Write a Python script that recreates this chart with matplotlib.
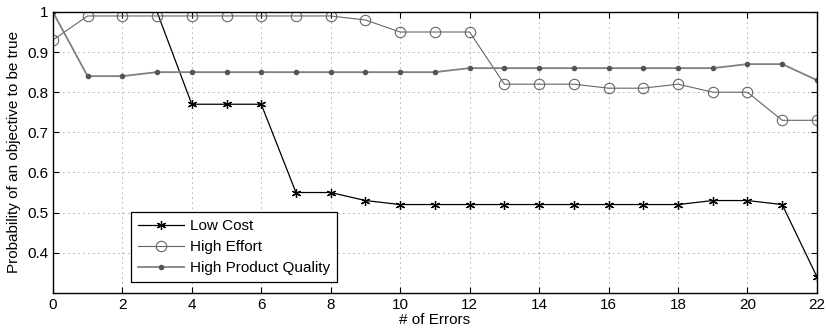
import matplotlib
matplotlib.use("Agg")
import matplotlib.pyplot as plt
import numpy as np

plt.rcParams['font.family'] = ['Liberation Sans', 'DejaVu Sans']

# datos
errores = list(range(23))
low_cost = [1.0, 1.0, 1.0, 1.0, 0.77, 0.77, 0.77, 0.55, 0.55, 0.53, 0.52, 0.52,
            0.52, 0.52, 0.52, 0.52, 0.52, 0.52, 0.52, 0.53, 0.53, 0.52, 0.34]
high_effort = [0.93, 0.99, 0.99, 0.99, 0.99, 0.99, 0.99, 0.99, 0.99, 0.98, 0.95, 0.95,
               0.95, 0.82, 0.82, 0.82, 0.81, 0.81, 0.82, 0.80, 0.80, 0.73, 0.73]
high_quality = [1.0, 0.84, 0.84, 0.85, 0.85, 0.85, 0.85, 0.85, 0.85, 0.85, 0.85, 0.85,
                0.86, 0.86, 0.86, 0.86, 0.86, 0.86, 0.86, 0.86, 0.87, 0.87, 0.83]

fig = plt.figure(figsize=(8.26, 3.32), dpi=100)
ax = fig.add_axes([0.064, 0.118, 0.925, 0.846])

# los marcadores en y=1 quedan ocultos bajo el borde superior
visibles = [i for i, v in enumerate(low_cost) if v < 1.0]
ax.plot(errores, low_cost, color='black', lw=0.9, marker=(6, 2, 0), ms=6.5,
        mew=0.9, markevery=visibles, label='Low Cost')
ax.plot(errores, high_effort, color='#666666', lw=0.8, marker='o', ms=7.5,
        mfc='none', mew=0.8, label='High Effort')
ax.plot(errores, high_quality, color='#808080', lw=1.3, marker='.', ms=6,
        mfc='#555555', mec='#555555', label='High Product Quality')

ax.set_xlim(0, 22)
ax.set_ylim(0.3, 1.0)
ax.set_xticks(np.arange(0, 23, 2))
ax.set_yticks([0.4, 0.5, 0.6, 0.7, 0.8, 0.9, 1.0])
ax.set_yticklabels(['0.4', '0.5', '0.6', '0.7', '0.8', '0.9', '1'])
ax.grid(True, linestyle=(0, (1, 5)), color='#555555', lw=0.6)
ax.tick_params(direction='in', top=True, right=True, labelsize=11, length=4)
for s in ax.spines.values():
    s.set_linewidth(1.0)

ax.set_xlabel('# of Errors', fontsize=11, labelpad=1)
ax.set_ylabel('Probability of an objective to be true', fontsize=11, labelpad=4)

leg = ax.legend(loc='lower left', bbox_to_anchor=(0.092, 0.012), fontsize=11,
                fancybox=False, framealpha=1, edgecolor='black',
                borderpad=0.45, labelspacing=0.45, handlelength=3.0, handletextpad=0.45)
leg.get_frame().set_linewidth(0.9)

plt.savefig('out.png', dpi=100)
